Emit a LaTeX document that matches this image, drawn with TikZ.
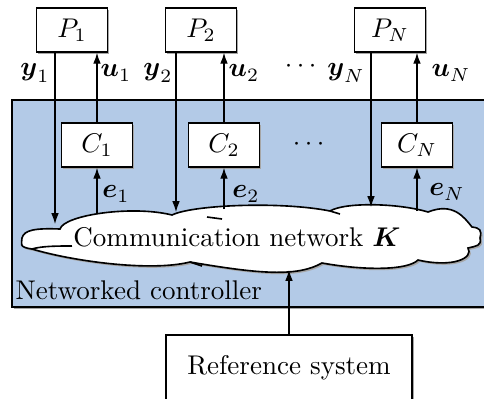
\documentclass[tikz,border=0pt]{standalone}
\usepackage{amsmath,amssymb}
\usepackage{tikz}
\usetikzlibrary{positioning,shadows,arrows.meta}
\definecolor{ctrlblue}{RGB}{179,202,231}

\begin{document}
\begin{tikzpicture}[x=0.013cm,y=-0.013cm,>={Latex[length=4pt,width=2.8pt]},
    shad/.style={drop shadow={shadow xshift=0.7pt,shadow yshift=-0.7pt,fill=black!35,opacity=1}},
    blk/.style={draw,line width=0.6pt,fill=white,shad,minimum width=0.923cm,minimum height=0.572cm,inner sep=0pt},
    sig/.style={line width=0.4pt}]
            \useasboundingbox (0,0) rectangle (484,398);
            \clip (0,0) rectangle (484,398);
            % networked controller
            \path[draw,line width=0.6pt,fill=ctrlblue,shad] (12,100) rectangle (495,307);
            \node[anchor=west,inner sep=0pt] (nc) at (15,290) {Networked controller};
            % plants and controllers
            \node[blk] (P1) at (72,30) {$P_1$};
            \node[blk] (P2) at (201,30) {$P_2$};
            \node[blk] (PN) at (390,30) {$P_N$};
            \node[blk] (C1) at (97,145) {$C_1$};
            \node[blk] (C2) at (224,145) {$C_2$};
            \node[blk] (CN) at (417,145) {$C_N$};
            \node (dtop) at (303,66) {$\cdots$};
            \node (dmid) at (311,144) {$\cdots$};
            % network cloud
            \path[draw,line width=0.6pt,fill=white,shad]
                (22,238) .. controls +(2,-8) and +(-25,-1) .. (60,229)
                .. controls +(4,-14) and +(-40,-10) .. (172,215)
                .. controls +(20,-10) and +(-50,-10) .. (330,211)
                .. controls +(15,-9) and +(-30,-9) .. (428,212)
                .. controls +(25,-10) and +(-8,-10) .. (472,227)
                .. controls +(8,1) and +(2,-8) .. (480,238)
                .. controls +(2,8) and +(8,-2) .. (468,248)
                .. controls +(6,10) and +(35,8) .. (418,260)
                .. controls +(-10,10) and +(45,8) .. (322,263)
                .. controls +(-25,14) and +(70,12) .. (190,262)
                .. controls +(-40,10) and +(40,12) .. (32,249)
                .. controls +(-14,-2) and +(0,6) .. (22,238) -- cycle;
            \draw[line width=0.6pt] (32,249) .. controls +(10,-3) and +(-15,0) .. (72,246)
                (207,217) -- (222,219) (190,262) -- (202,266) (330,211) -- (340,214);
            \node (net) at (237,237) {Communication network $\boldsymbol{K}$};
            \node[draw,line width=0.6pt,fill=white,shad,minimum width=3.2cm,minimum height=0.858cm] (ref) at (289,368) {Reference system};
            % ends on the cloud
            \coordinate (k1) at (55,224);
            \coordinate (k2) at (176,212);
            \coordinate (kN) at (371,207);
            \coordinate (f1) at (97,213);
            \coordinate (f2) at (224,209);
            \coordinate (fN) at (417,211);
            \coordinate (fr) at (289,270);
            \draw[sig,->] (P1.south -| k1) -- (k1);
            \draw[sig,->] (P2.south -| k2) -- (k2);
            \draw[sig,->] (PN.south -| kN) -- (kN);
            \draw[sig,->] (C1) -- (C1 |- P1.south);
            \draw[sig,->] (C2) -- (C2 |- P2.south);
            \draw[sig,->] (CN) -- (CN |- PN.south);
            \draw[sig,->] (f1) -- (C1.south);
            \draw[sig,->] (f2) -- (C2.south);
            \draw[sig,->] (fN) -- (CN.south);
            \draw[sig,->] (ref) -- (fr);
            % signal labels
            \node (y1) at (35,73) {$\boldsymbol{y}_1$};
            \node (u1) at (116,73) {$\boldsymbol{u}_1$};
            \node (y2) at (158,73) {$\boldsymbol{y}_2$};
            \node (u2) at (244,73) {$\boldsymbol{u}_2$};
            \node (yN) at (346,73) {$\boldsymbol{y}_N$};
            \node (uN) at (451,73) {$\boldsymbol{u}_N$};
            \node (e1) at (116,194) {$\boldsymbol{e}_1$};
            \node (e2) at (246,194) {$\boldsymbol{e}_2$};
            \node (eN) at (447,192) {$\boldsymbol{e}_N$};
\end{tikzpicture}
\end{document}
